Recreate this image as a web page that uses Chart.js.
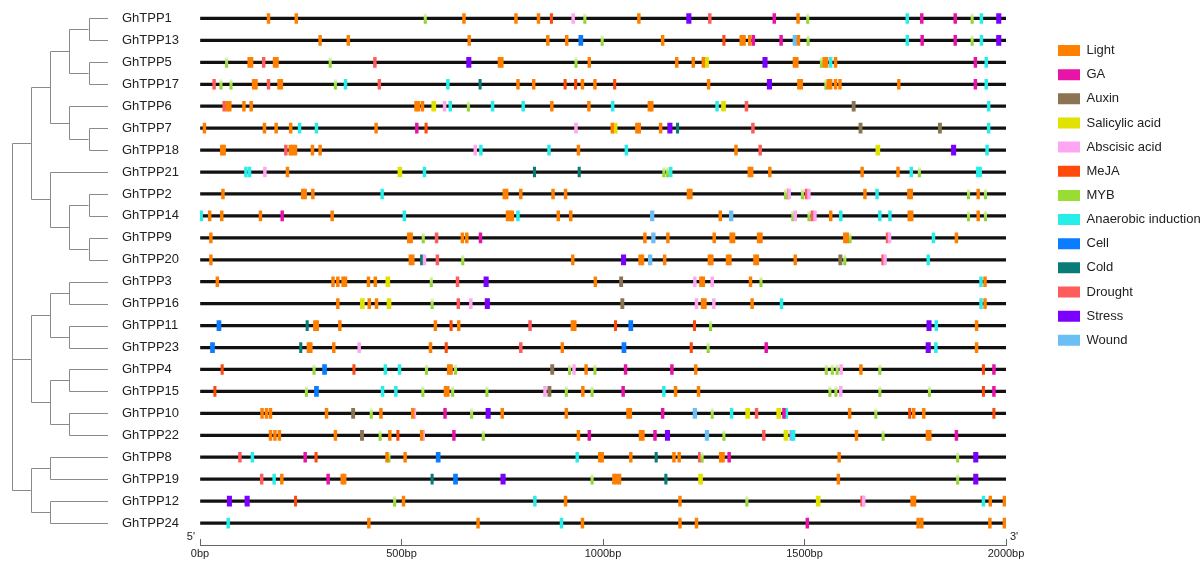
<!DOCTYPE html>
<html><head><meta charset="utf-8">
<script src="https://cdn.jsdelivr.net/npm/chart.js@4.4.0/dist/chart.umd.min.js"></script>
<style>html,body{margin:0;padding:0;background:#fff}#wrap{width:1204px;height:561px;position:relative}</style>
</head><body><div id="wrap"><canvas id="c" width="1204" height="561"></canvas></div>
<script>
// ---------------- DATA ----------------
const genes = ['GhTPP1','GhTPP13','GhTPP5','GhTPP17','GhTPP6','GhTPP7','GhTPP18','GhTPP21','GhTPP2','GhTPP14','GhTPP9','GhTPP20','GhTPP3','GhTPP16','GhTPP11','GhTPP23','GhTPP4','GhTPP15','GhTPP10','GhTPP22','GhTPP8','GhTPP19','GhTPP12','GhTPP24'];
const elementTypes = ['Light','GA','Auxin','Salicylic acid','Abscisic acid','MeJA','MYB','Anaerobic induction','Cell','Cold','Drought','Stress','Wound'];
const elementCodes = ['L','GA','AUX','SA','ABA','JA','MYB','AN','CE','CO','DR','ST','WO'];
const axisTicks = [0,500,1000,1500,2000];
const promoterLength = 2000;

// cis-element sites per gene: [element code, position in bp]
const GhTPP1 = [['L',170],['L',239],['MYB',559],['L',655],['L',784],['L',840],['JA',872],['ABA',926],['MYB',955],['L',1089],['ST',1213],['DR',1265],['GA',1425],['L',1484],['MYB',1508],['AN',1755],['GA',1791],['GA',1874],['MYB',1916],['AN',1939],['ST',1982]];
const GhTPP13 = [['L',298],['L',368],['L',668],['L',863],['L',910],['CE',945],['MYB',998],['L',1148],['JA',1300],['L',1343],['L',1350],['L',1364],['GA',1373],['GA',1442],['WO',1476],['L',1485],['MYB',1509],['AN',1755],['GA',1792],['GA',1874],['MYB',1916],['AN',1939],['ST',1982]];
const GhTPP5 = [['MYB',66],['L',122],['L',128],['DR',158],['L',185],['L',191],['MYB',323],['DR',434],['ST',667],['L',743],['L',749],['MYB',933],['L',966],['L',1183],['L',1224],['L',1249],['SA',1257],['ST',1402],['L',1475],['L',1481],['MYB',1542],['L',1549],['L',1555],['AN',1565],['L',1577],['GA',1924],['AN',1951]];
const GhTPP17 = [['DR',35],['MYB',52],['MYB',77],['L',133],['L',139],['DR',170],['L',196],['L',202],['MYB',336],['AN',361],['DR',445],['AN',615],['CO',695],['L',789],['L',828],['JA',906],['JA',932],['L',949],['L',980],['JA',1029],['L',1262],['ST',1413],['L',1486],['L',1492],['MYB',1553],['L',1559],['L',1565],['L',1577],['L',1588],['L',1734],['GA',1924],['AN',1951]];
const GhTPP6 = [['DR',60],['L',68],['L',74],['L',109],['L',127],['L',536],['L',542],['L',552],['SA',580],['ABA',607],['AN',621],['MYB',666],['AN',726],['AN',802],['L',873],['L',965],['AN',1024],['L',1115],['L',1121],['AN',1283],['SA',1299],['DR',1356],['AUX',1622],['AN',1957]];
const GhTPP7 = [['L',11],['L',160],['L',189],['L',225],['AN',247],['AN',289],['L',437],['GA',538],['JA',561],['ABA',933],['L',1023],['SA',1030],['L',1084],['L',1090],['L',1143],['ST',1166],['CO',1185],['DR',1372],['AUX',1639],['AUX',1836],['AN',1957]];
const GhTPP18 = [['L',54],['L',60],['DR',213],['L',224],['L',230],['L',237],['L',279],['L',298],['ABA',683],['AN',697],['AN',866],['L',939],['AN',1058],['L',1330],['DR',1390],['SA',1682],['ST',1870],['AN',1953]];
const GhTPP21 = [['AN',114],['AN',123],['ABA',161],['L',217],['SA',496],['AN',557],['CO',830],['CO',941],['MYB',1151],['MYB',1160],['AN',1168],['L',1363],['L',1369],['L',1414],['L',1643],['L',1732],['AN',1765],['MYB',1785],['AN',1930],['AN',1936]];
const GhTPP2 = [['L',57],['L',255],['L',261],['L',280],['AN',452],['L',755],['L',761],['L',796],['L',876],['L',907],['L',1212],['L',1218],['MYB',1453],['DR',1458],['ABA',1462],['MYB',1495],['DR',1505],['ABA',1511],['L',1650],['AN',1680],['L',1759],['L',1765],['MYB',1907],['L',1931],['MYB',1949]];
const GhTPP14 = [['AN',3],['L',24],['L',54],['L',150],['GA',204],['L',328],['AN',507],['L',763],['L',769],['L',775],['AN',789],['L',889],['L',920],['WO',1122],['L',1291],['WO',1318],['MYB',1471],['ABA',1477],['MYB',1511],['DR',1519],['ABA',1526],['L',1565],['AN',1590],['AN',1687],['AN',1712],['L',1760],['L',1766],['MYB',1907],['L',1931],['MYB',1949]];
const GhTPP9 = [['L',27],['L',518],['L',524],['MYB',554],['DR',587],['L',651],['L',662],['GA',696],['L',1104],['WO',1125],['L',1161],['L',1276],['L',1318],['L',1324],['L',1386],['L',1392],['L',1600],['L',1606],['MYB',1613],['DR',1706],['ABA',1711],['AN',1820],['L',1877]];
const GhTPP20 = [['L',27],['L',522],['L',528],['CO',550],['ABA',557],['DR',589],['MYB',652],['L',925],['ST',1051],['L',1092],['L',1098],['WO',1117],['L',1153],['L',1264],['L',1270],['L',1309],['L',1315],['L',1377],['L',1383],['L',1477],['AUX',1589],['MYB',1600],['DR',1695],['ABA',1700],['AN',1807]];
const GhTPP3 = [['L',43],['L',330],['L',342],['L',355],['L',361],['L',418],['L',435],['SA',466],['MYB',574],['DR',639],['ST',710],['L',981],['AUX',1045],['ABA',1228],['L',1243],['L',1249],['ABA',1271],['L',1366],['MYB',1392],['AN',1938],['L',1948]];
const GhTPP16 = [['L',342],['SA',403],['L',420],['L',438],['SA',469],['MYB',576],['DR',641],['ABA',672],['ST',713],['AUX',1048],['ABA',1232],['L',1247],['L',1253],['ABA',1275],['L',1370],['AN',1443],['AN',1938],['L',1948]];
const GhTPP11 = [['CE',47],['CO',266],['L',285],['L',291],['L',347],['L',584],['JA',623],['L',642],['DR',819],['L',924],['L',930],['JA',1031],['CE',1069],['JA',1227],['MYB',1267],['ST',1809],['AN',1827],['L',1927]];
const GhTPP23 = [['CE',31],['CO',250],['L',269],['L',275],['L',332],['ABA',395],['L',572],['JA',611],['DR',796],['L',899],['CE',1052],['JA',1219],['MYB',1261],['GA',1405],['ST',1807],['AN',1826],['L',1927]];
const GhTPP4 = [['JA',55],['MYB',283],['CE',309],['JA',382],['AN',460],['AN',495],['MYB',562],['L',617],['L',623],['MYB',634],['AUX',874],['MYB',917],['ABA',928],['L',958],['MYB',980],['GA',1056],['GA',1171],['L',1230],['MYB',1554],['MYB',1569],['MYB',1581],['ABA',1591],['L',1640],['MYB',1687],['JA',1944],['GA',1970]];
const GhTPP15 = [['JA',37],['MYB',264],['CE',289],['AN',453],['AN',486],['MYB',553],['L',609],['L',615],['MYB',627],['MYB',712],['ABA',856],['AUX',867],['MYB',909],['L',950],['MYB',973],['GA',1050],['AN',1151],['L',1180],['L',1237],['MYB',1563],['MYB',1578],['ABA',1590],['MYB',1687],['MYB',1810],['JA',1944],['GA',1970]];
const GhTPP10 = [['L',154],['L',165],['L',175],['L',314],['AUX',380],['MYB',425],['L',449],['L',528],['ABA',532],['GA',608],['MYB',674],['ST',715],['L',750],['L',909],['L',1062],['L',1068],['GA',1148],['WO',1228],['MYB',1271],['AN',1319],['SA',1359],['DR',1381],['SA',1436],['GA',1449],['AN',1455],['L',1612],['MYB',1677],['JA',1761],['L',1771],['L',1796],['JA',1970]];
const GhTPP22 = [['L',175],['L',186],['L',197],['L',336],['AUX',402],['MYB',447],['L',471],['JA',491],['L',550],['ABA',554],['GA',630],['MYB',703],['L',939],['GA',966],['L',1093],['L',1099],['GA',1129],['ST',1160],['WO',1258],['MYB',1300],['DR',1399],['SA',1454],['WO',1468],['AN',1473],['L',1629],['MYB',1695],['L',1805],['L',1811],['GA',1877]];
const GhTPP8 = [['DR',99],['AN',130],['GA',261],['JA',288],['L',464],['MYB',469],['L',509],['CE',591],['AN',936],['L',992],['L',998],['L',1069],['CO',1132],['L',1176],['L',1189],['DR',1240],['MYB',1246],['L',1292],['L',1298],['GA',1313],['L',1586],['MYB',1880],['ST',1925]];
const GhTPP19 = [['DR',153],['AN',184],['L',203],['GA',318],['L',353],['L',359],['CO',576],['CE',634],['ST',752],['MYB',973],['L',1027],['L',1034],['L',1041],['CO',1156],['SA',1242],['L',1584],['MYB',1880],['ST',1925]];
const GhTPP12 = [['ST',73],['ST',117],['JA',237],['MYB',483],['L',505],['AN',831],['L',907],['L',1191],['MYB',1357],['SA',1534],['DR',1643],['ABA',1647],['L',1767],['L',1773],['AN',1944],['L',1961],['L',1996]];
const GhTPP24 = [['AN',70],['L',419],['L',690],['AN',897],['L',949],['L',1191],['L',1232],['GA',1507],['L',1782],['L',1791],['L',1960],['L',1996]];

const geneSites = [GhTPP1,GhTPP13,GhTPP5,GhTPP17,GhTPP6,GhTPP7,GhTPP18,GhTPP21,GhTPP2,GhTPP14,GhTPP9,GhTPP20,GhTPP3,GhTPP16,GhTPP11,GhTPP23,GhTPP4,GhTPP15,GhTPP10,GhTPP22,GhTPP8,GhTPP19,GhTPP12,GhTPP24];

// phylogenetic tree (nested clades)
const tree = [
  [
    [[['GhTPP1','GhTPP13'],['GhTPP5','GhTPP17']], ['GhTPP6',['GhTPP7','GhTPP18']]],
    ['GhTPP21', [['GhTPP2','GhTPP14'],['GhTPP9','GhTPP20']]]
  ],
  [[['GhTPP3','GhTPP16'],['GhTPP11','GhTPP23']], [['GhTPP4','GhTPP15'],['GhTPP10','GhTPP22']]],
  [['GhTPP8','GhTPP19'],['GhTPP12','GhTPP24']]
];

// ---------------- STYLE ----------------
const typeColors = ['#ff8000','#e814a8','#8c7352','#e2e200','#ffa6f2','#ff4a0c','#98dc34','#28eeea','#0a7cff','#0a7c78','#ff5c5c','#7c00ff','#6cbff4'];
const typeWidthBp = [7,7,8,10,7,6,6,7,10,6,7,11,9];
const FONT = "'Liberation Sans', Arial, sans-serif";
const treeLeft = 11.7, treeStep = 19.2, leafX = 108, treeColor = '#8a8a8a', labelX = 122;
const markHeight = 10;

// MYB marks are drawn with a pale-top green gradient
function mybFill(context) {
  const chart = context.chart;
  const yScale = chart.scales && chart.scales.y;
  if (!yScale || !context.raw || typeof context.raw.y !== 'number') return typeColors[6];
  const yc = yScale.getPixelForValue(context.raw.y);
  if (!Number.isFinite(yc)) return typeColors[6];
  const g = chart.ctx.createLinearGradient(0, yc - markHeight / 2, 0, yc + markHeight / 2);
  g.addColorStop(0, '#eef9dc');
  g.addColorStop(0.45, '#a6e04c');
  g.addColorStop(1, '#8ad22a');
  return g;
}

// ---------------- BUILD ----------------
const datasets = [{
  label: 'promoter',
  data: genes.map((g, i) => ({x: [0, promoterLength], y: i})),
  backgroundColor: '#111',
  barThickness: 2.6,
  order: 50
}];
elementTypes.forEach((name, t) => {
  const code = elementCodes[t];
  const half = typeWidthBp[t] / 2;
  const data = [];
  geneSites.forEach((sites, row) => {
    sites.forEach(([c, pos]) => { if (c === code) data.push({x: [pos - half, pos + half], y: row}); });
  });
  datasets.push({
    label: name, data,
    backgroundColor: code === 'MYB' ? mybFill : typeColors[t],
    borderWidth: 0,
    barThickness: markHeight,
    order: 1 + t
  });
});

const decor = {
  id: 'decor',
  afterDraw(chart) {
    const {ctx} = chart;
    const x = chart.scales.x, y = chart.scales.y;
    ctx.save();
    ctx.fillStyle = '#222';
    ctx.font = '13px ' + FONT;
    ctx.textAlign = 'left';
    ctx.textBaseline = 'middle';
    genes.forEach((g, i) => ctx.fillText(g, labelX, y.getPixelForValue(i)));
    ctx.strokeStyle = treeColor; ctx.lineWidth = 1;
    const px = v => Math.round(v) + 0.5;
    function node(n, depth) {
      if (typeof n === 'string') return {x: leafX, y: y.getPixelForValue(genes.indexOf(n))};
      const nx = treeLeft + depth * treeStep;
      const kids = n.map(k => node(k, depth + 1));
      ctx.beginPath();
      kids.forEach(k => { ctx.moveTo(px(nx), px(k.y)); ctx.lineTo(k.x, px(k.y)); });
      ctx.moveTo(px(nx), px(kids[0].y)); ctx.lineTo(px(nx), px(kids[kids.length - 1].y));
      ctx.stroke();
      return {x: nx, y: (kids[0].y + kids[kids.length - 1].y) / 2};
    }
    node(tree, 0);
    ctx.fillStyle = '#222';
    ctx.font = '11px ' + FONT;
    ctx.textBaseline = 'middle';
    ctx.textAlign = 'right';
    ctx.fillText("5'", x.getPixelForValue(0) - 5, x.top - 8);
    ctx.textAlign = 'left';
    ctx.fillText("3'", x.getPixelForValue(promoterLength) + 4, x.top - 8);
    ctx.restore();
  }
};

new Chart(document.getElementById('c'), {
  type: 'bar',
  data: {datasets},
  options: {
    indexAxis: 'y',
    responsive: false,
    animation: false,
    devicePixelRatio: 1,
    events: [],
    layout: {padding: {left: 122, top: 7.5, right: 0, bottom: 0}},
    datasets: {bar: {grouped: false}},
    scales: {
      x: {
        type: 'linear', position: 'bottom', min: 0, max: promoterLength,
        afterBuildTicks: s => { s.ticks = axisTicks.map(v => ({value: v})); },
        afterFit: s => { s.height = 16; },
        ticks: {callback: v => v + 'bp', font: {family: FONT, size: 11}, color: '#222', maxRotation: 0, padding: 8.8, autoSkip: false},
        grid: {display: true, drawOnChartArea: false, drawTicks: true, tickLength: -6, color: '#666', lineWidth: 1},
        border: {display: true, color: '#666', width: 1}
      },
      y: {
        type: 'linear', position: 'left', reverse: true, min: -0.5, max: 24, offset: false,
        afterBuildTicks: s => { s.ticks = genes.map((g, i) => ({value: i})); },
        afterFit: s => { s.width = 78; },
        ticks: {display: false, padding: 0},
        grid: {display: false},
        border: {display: false}
      },
      yR: {
        type: 'linear', position: 'right', display: true, offset: false,
        afterFit: s => { s.width = 40.85; },
        ticks: {display: false, padding: 0}, grid: {display: false}, border: {display: false}
      }
    },
    plugins: {
      tooltip: {enabled: false},
      legend: {
        position: 'right', align: 'start', maxWidth: 157.15,
        title: {display: true, text: ' ', font: {size: 13, lineHeight: 1}, padding: {top: 6, bottom: 6.35}},
        labels: {
          boxWidth: 22, boxHeight: 11, padding: 11.15, color: '#222',
          font: {family: FONT, size: 13},
          filter: item => item.text !== 'promoter',
          generateLabels: chart => {
            const items = Chart.defaults.plugins.legend.labels.generateLabels(chart);
            items.forEach(it => { if (it.text === 'MYB') it.fillStyle = typeColors[6]; });
            return items;
          }
        }
      }
    }
  },
  plugins: [decor]
});
</script></body></html>
